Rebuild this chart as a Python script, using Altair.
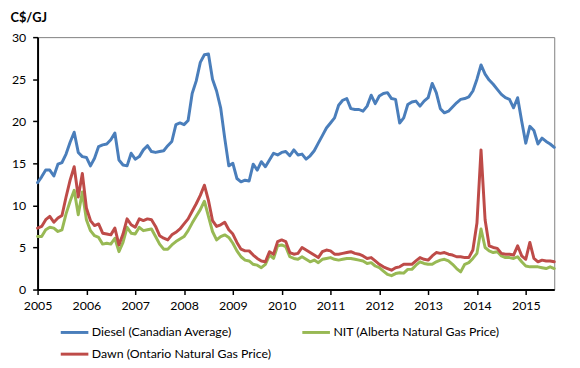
import altair as alt
import pandas as pd

start_year = 2005

series_names = [
    "Diesel (Canadian Average)",
    "NIT (Alberta Natural Gas Price)",
    "Dawn (Ontario Natural Gas Price)",
]
series_colors = ["#4A7EBB", "#98B954", "#BE4B48"]
# legend fills column by column: Diesel / Dawn in the first column, NIT in the second
legend_order = [series_names[0], series_names[2], series_names[1]]
legend_colors = [series_colors[0], series_colors[2], series_colors[1]]

year_ticks = list(range(2005, 2016))
y_ticks = [0, 5, 10, 15, 20, 25, 30]

# monthly values, Jan 2005 .. Aug 2015
diesel = [
    12.7, 13.4, 14.2, 14.2, 13.5, 14.9, 15.1, 16.1, 17.5, 18.7, 16.3, 15.8,
    15.7, 14.7, 15.6, 17.0, 17.2, 17.3, 17.8, 18.6, 15.4, 14.8, 14.7, 16.2,
    15.5, 15.8, 16.6, 17.1, 16.4, 16.3, 16.4, 16.5, 17.1, 17.6, 19.6, 19.8,
    19.6, 20.1, 23.3, 24.8, 27.0, 27.9, 28.0, 25.0, 23.6, 21.6, 18.0, 14.7,
    15.0, 13.2, 12.8, 13.0, 12.9, 14.9, 14.2, 15.2, 14.6, 15.4, 16.2, 16.0,
    16.3, 16.4, 15.9, 16.6, 16.0, 16.1, 15.5, 15.9, 16.5, 17.4, 18.3, 19.2,
    19.8, 20.4, 21.9, 22.5, 22.7, 21.5, 21.4, 21.4, 21.2, 21.8, 23.1, 22.1,
    23.0, 23.3, 23.4, 22.7, 22.6, 19.8, 20.4, 22.0, 22.3, 22.4, 21.8, 22.4,
    22.8, 24.5, 23.4, 21.5, 21.0, 21.2, 21.7, 22.2, 22.6, 22.7, 22.9, 23.6,
    25.0, 26.7, 25.6, 24.9, 24.4, 23.8, 23.2, 22.8, 22.6, 21.6, 22.8, 20.0,
    17.4, 19.4, 18.9, 17.3, 18.0, 17.6, 17.3, 16.9,
]

nit = [
    6.3, 6.3, 7.1, 7.4, 7.3, 6.9, 7.1, 9.0, 10.5, 11.8, 8.9, 11.6,
    8.3, 7.0, 6.4, 6.2, 5.4, 5.5, 5.4, 6.1, 4.5, 5.6, 7.4, 6.7,
    6.6, 7.4, 7.0, 7.1, 7.2, 6.3, 5.4, 4.8, 4.8, 5.3, 5.7, 6.0,
    6.3, 7.0, 7.9, 8.7, 9.5, 10.5, 8.7, 6.9, 5.9, 6.3, 6.5, 6.2,
    5.5, 4.6, 3.9, 3.5, 3.4, 3.0, 2.9, 2.6, 3.0, 4.1, 3.7, 5.2,
    5.3, 5.1, 3.9, 3.7, 3.6, 3.9, 3.6, 3.3, 3.5, 3.2, 3.6, 3.7,
    3.8, 3.6, 3.5, 3.6, 3.7, 3.7, 3.6, 3.5, 3.4, 3.1, 3.2, 2.8,
    2.6, 2.2, 1.8, 1.65, 1.9, 2.0, 1.95, 2.4, 2.4, 2.9, 3.3, 3.1,
    3.0, 3.0, 3.3, 3.5, 3.6, 3.4, 3.0, 2.5, 2.1, 3.0, 3.2, 3.7,
    4.3, 7.2, 5.0, 4.6, 4.4, 4.5, 4.0, 3.8, 3.8, 3.7, 3.9, 3.3,
    2.8, 2.7, 2.7, 2.7, 2.6, 2.5, 2.7, 2.5,
]

dawn = [
    7.3, 7.5, 8.3, 8.7, 8.0, 8.5, 8.8, 11.0, 13.0, 14.6, 11.0, 13.8,
    9.7, 8.2, 7.6, 7.8, 6.7, 6.6, 6.5, 7.3, 5.3, 6.6, 8.4, 7.7,
    7.4, 8.4, 8.2, 8.4, 8.3, 7.5, 6.4, 6.1, 5.9, 6.5, 6.8, 7.2,
    7.8, 8.4, 9.3, 10.2, 11.2, 12.4, 10.6, 8.2, 7.5, 7.7, 8.0, 7.1,
    6.6, 5.6, 4.8, 4.6, 4.6, 4.1, 3.7, 3.4, 3.3, 4.5, 4.2, 5.7,
    5.9, 5.7, 4.4, 4.2, 4.3, 5.0, 4.7, 4.4, 4.1, 3.8, 4.5, 4.7,
    4.6, 4.2, 4.2, 4.3, 4.4, 4.5, 4.3, 4.2, 4.0, 3.7, 3.8, 3.4,
    3.0, 2.7, 2.5, 2.3, 2.6, 2.7, 3.0, 3.0, 3.0, 3.4, 3.8, 3.6,
    3.5, 4.0, 4.4, 4.3, 4.4, 4.2, 4.1, 3.9, 3.9, 3.8, 3.8, 4.7,
    7.9, 16.6, 8.3, 5.2, 5.0, 4.9, 4.3, 4.2, 4.2, 4.1, 5.2, 4.0,
    3.6, 5.6, 3.7, 3.3, 3.5, 3.4, 3.4, 3.3,
]

rows = []
for name, vals in zip(series_names, [diesel, nit, dawn]):
    for i, v in enumerate(vals):
        rows.append({"t": start_year + i / 12.0, "value": v, "series": name})
df = pd.DataFrame(rows)

n_months = len(diesel)
font = "Lato"

chart = (
    alt.Chart(df)
    .mark_line(strokeWidth=3, strokeJoin="round", strokeCap="round")
    .encode(
        x=alt.X(
            "t:Q",
            scale=alt.Scale(domain=[start_year, start_year + (n_months - 1) / 12.0], nice=False, zero=False),
            axis=alt.Axis(
                values=year_ticks, format="d", title=None, grid=False,
                domainColor="black", domainWidth=2, tickColor="black", tickWidth=1.5,
                tickSize=5, labelPadding=5, labelFontSize=12.5, labelColor="black",
                labelFont=font, labelFlush=False,
            ),
        ),
        y=alt.Y(
            "value:Q",
            scale=alt.Scale(domain=[0, 30], nice=False),
            axis=alt.Axis(
                values=y_ticks, grid=False, title="C$/GJ", titleAngle=0,
                titleX=-28, titleY=-20, titleAlign="left", titleBaseline="middle",
                titleFontWeight="bold", titleFontSize=13, titleFont=font, titleColor="black",
                domainColor="black", domainWidth=2, tickColor="black", tickWidth=1.5,
                tickSize=5, labelPadding=7, labelFontSize=12.5, labelColor="black",
                labelFont=font,
            ),
        ),
        color=alt.Color(
            "series:N",
            scale=alt.Scale(domain=legend_order, range=legend_colors),
            legend=alt.Legend(
                title=None, orient="none", legendX=22, legendY=284, columns=2,
                symbolType="stroke", symbolSize=784, symbolStrokeWidth=3,
                labelFont=font, labelFontSize=12.5, labelColor="black",
                labelOffset=2, columnPadding=25, rowPadding=-6, padding=0,
                labelLimit=400,
            ),
        ),
    )
    .properties(
        width=524,
        height=256,
        padding={"left": 30, "top": 27, "right": 18, "bottom": 77},
        autosize=alt.AutoSizeParams(type="none"),
    )
    .configure_view(stroke="#7F7F7F", strokeWidth=1)
)

chart.save("out.html", embed_options={"renderer": "svg", "actions": False})
